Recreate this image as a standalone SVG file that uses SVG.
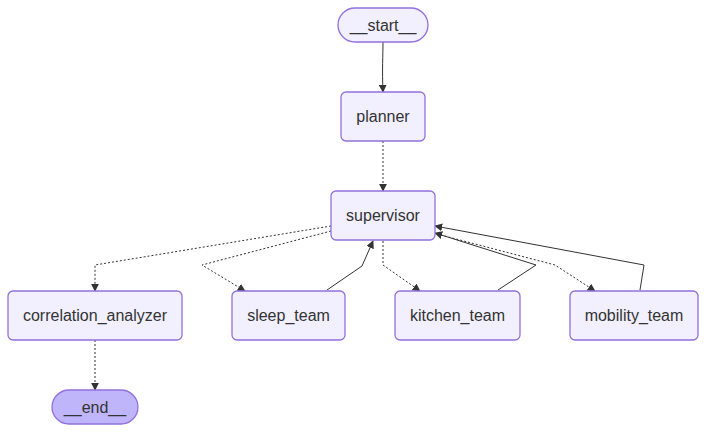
<svg xmlns="http://www.w3.org/2000/svg" width="707" height="432" viewBox="0 0 707 432">
<style>
.node rect{fill:#f2f0ff;stroke:#9370db;stroke-width:1.3}
.node text{font-family:"Liberation Sans",Arial,sans-serif;font-size:16px;fill:#333;text-anchor:middle;dominant-baseline:central}
.end rect{fill:#bfb5fb}
.e{fill:none;stroke:#333;stroke-width:1;marker-end:url(#ah)}
.d{stroke-dasharray:2 2}
</style>
<defs>
<marker id="ah" viewBox="0 0 10 10" refX="9" refY="5" markerWidth="8" markerHeight="8" markerUnits="userSpaceOnUse" orient="auto">
<path d="M0,0 L10,5 L0,10 z" fill="#333"/>
</marker>
</defs>
<rect width="707" height="432" fill="#fff"/>
<g id="connectors">
<path class="e" d="M383,42 C383,55 382,70 383,92"/>
<path class="e d" d="M383,141 L383,191"/>
<path class="e d" d="M331,226 L95,265 L95,291"/>
<path class="e d" d="M331,231 L202,265 L245,291"/>
<path class="e" d="M327,290 L362,266 L373,241"/>
<path class="e d" d="M383,241 L383,265 L420,291"/>
<path class="e" d="M498,290 L536,265 L435,233"/>
<path class="e d" d="M437,234 L555,265 L595,291"/>
<path class="e" d="M640,290 L644,265 L435,226"/>
<path class="e d" d="M95,340 L95,390"/>
</g>
<g id="start" class="node"><rect x="338" y="8" width="90" height="34" rx="17"/><text x="383" y="25">__start__</text></g>
<g id="planner" class="node"><rect x="341" y="92" width="84" height="49" rx="5"/><text x="383" y="116.5">planner</text></g>
<g id="supervisor" class="node"><rect x="331" y="191" width="104" height="49" rx="5"/><text x="383" y="215.5">supervisor</text></g>
<g id="correlation_analyzer" class="node"><rect x="8" y="291" width="174" height="49" rx="5"/><text x="95" y="315.5">correlation_analyzer</text></g>
<g id="sleep_team" class="node"><rect x="232" y="291" width="113" height="49" rx="5"/><text x="288.5" y="315.5">sleep_team</text></g>
<g id="kitchen_team" class="node"><rect x="395" y="291" width="125" height="49" rx="5"/><text x="457.5" y="315.5">kitchen_team</text></g>
<g id="mobility_team" class="node"><rect x="570" y="291" width="128" height="49" rx="5"/><text x="634" y="315.5">mobility_team</text></g>
<g id="end" class="node end"><rect x="52" y="390" width="86" height="34" rx="17"/><text x="95" y="407">__end__</text></g>
</svg>
